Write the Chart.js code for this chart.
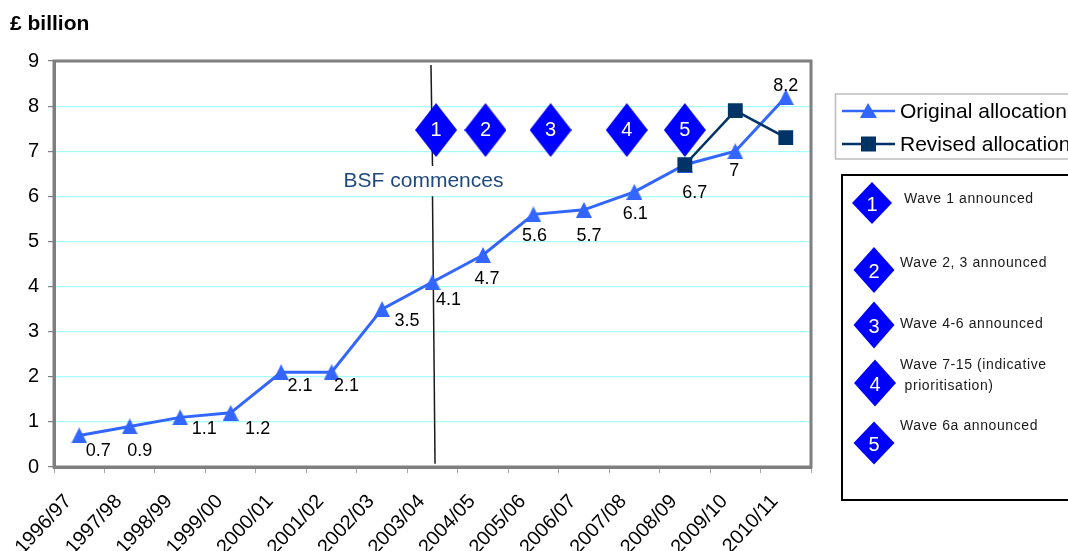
<!DOCTYPE html>
<html>
<head>
<meta charset="utf-8">
<title>BSF capital allocation</title>
<script src="https://cdn.jsdelivr.net/npm/chart.js@4"></script>
<style>
html, body { margin: 0; padding: 0; background: #fff; overflow: hidden; }
canvas { display: block; }
</style>
</head>
<body>
<canvas id="chart" width="1068" height="551"></canvas>
<script>
// Schools capital allocation, original against revised, with BSF wave announcements
const years = ['1996/97','1997/98','1998/99','1999/00','2000/01','2001/02','2002/03','2003/04','2004/05','2005/06','2006/07','2007/08','2008/09','2009/10','2010/11'];
const original = [0.7,0.9,1.1,1.2,2.1,2.1,3.5,4.1,4.7,5.6,5.7,6.1,6.7,7,8.2];
const revised = [null,null,null,null,null,null,null,null,null,null,null,null,6.7,7.9,7.3];
const waveNumbers = ['1','2','3','4','5'];
const wavePosition = [7.07,8.05,9.34,10.85,12.0];
const waveLevel = [7.47,7.47,7.47,7.47,7.47];
const commenceUpperX = [6.97,7.0];
const commenceUpperY = [8.91,6.67];
const commenceLowerX = [7.0,7.05];
const commenceLowerY = [6.0,0.07];
const waveNotes = [['Wave 1 announced'],['Wave 2, 3 announced'],['Wave 4-6 announced'],['Wave 7-15 (indicative',' prioritisation)'],['Wave 6a announced']];

const FONT = '"Liberation Sans", Arial, sans-serif';
const BLUE = '#3366ff', NAVY = '#003366', DIAMOND = '#0000ff';

// Value label placement relative to each original-allocation point
const labelShift = [[19,16],[10,25],[24,12],[27,16],[19,14],[15,14],[25,12],[16,18],[4,24],[1,22],[5,26],[1,22],[10,28],[-1,20],[0,-11]];

// Key layout: diamond centre, size, and the text rows beside it
const keyRows = [
  {cx:872, cy:203, w:40, h:42, text:[[904,199]]},
  {cx:874, cy:270, w:41, h:46, text:[[900,263]]},
  {cx:874, cy:325, w:41, h:47, text:[[900,324]]},
  {cx:875, cy:383, w:42, h:47, text:[[900,365],[900,386]]},
  {cx:874, cy:443, w:41, h:43, text:[[900,426]]}
];

function diamondPath(ctx, cx, cy, w, h) {
  ctx.beginPath();
  ctx.moveTo(cx, cy - h / 2);
  ctx.lineTo(cx + w / 2, cy);
  ctx.lineTo(cx, cy + h / 2);
  ctx.lineTo(cx - w / 2, cy);
  ctx.closePath();
}

function diamondSprite(w, h) {
  const c = document.createElement('canvas');
  c.width = w; c.height = h;
  const g = c.getContext('2d');
  g.fillStyle = DIAMOND;
  diamondPath(g, w / 2, h / 2, w, h);
  g.fill();
  return c;
}

// Triangle marker centred on its point, as tall as it is wide
function triangleSprite(size, color) {
  const c = document.createElement('canvas');
  c.width = size; c.height = size;
  const g = c.getContext('2d');
  g.fillStyle = color;
  g.beginPath();
  g.moveTo(size / 2, 0);
  g.lineTo(size, size);
  g.lineTo(0, size);
  g.closePath();
  g.fill();
  return c;
}

const annotations = {
  id: 'annotations',
  beforeDatasetsDraw(chart) {
    // Heavy grey frame round the plot
    const {ctx, chartArea: a} = chart;
    ctx.save();
    ctx.strokeStyle = '#7f7f7f';
    ctx.lineWidth = 3;
    ctx.strokeRect(a.left, a.top, a.right - a.left, a.bottom - a.top);
    ctx.restore();
  },
  afterDatasetsDraw(chart) {
    const {ctx} = chart;
    ctx.save();
    ctx.textBaseline = 'middle';
    ctx.textAlign = 'center';

    // Value labels
    ctx.fillStyle = '#000';
    ctx.font = '18px ' + FONT;
    chart.getDatasetMeta(0).data.forEach((pt, i) => {
      ctx.fillText(String(original[i]), pt.x + labelShift[i][0], pt.y + labelShift[i][1]);
    });

    // Numbers inside the wave diamonds
    ctx.fillStyle = '#fff';
    ctx.font = '20px ' + FONT;
    chart.getDatasetMeta(2).data.forEach((pt, i) => {
      ctx.fillText(waveNumbers[i], pt.x, pt.y);
    });

    // Start-of-programme caption
    ctx.fillStyle = '#1f497d';
    ctx.font = '21px ' + FONT;
    ctx.fillText('BSF commences', 423.5, 181);

    // Axis unit
    ctx.textAlign = 'left';
    ctx.fillStyle = '#000';
    ctx.font = 'bold 21px ' + FONT;
    ctx.fillText('£ billion', 10, 24);

    // Series legend
    ctx.strokeStyle = '#bdbdbd';
    ctx.lineWidth = 1.5;
    ctx.strokeRect(835.5, 94, 260, 65);
    const rows = [
      {y:111, color:BLUE, label:chart.data.datasets[0].label, mark:'tri'},
      {y:144, color:NAVY, label:chart.data.datasets[1].label, mark:'sq'}
    ];
    rows.forEach(r => {
      ctx.strokeStyle = r.color;
      ctx.fillStyle = r.color;
      ctx.lineWidth = 2.5;
      ctx.beginPath();
      ctx.moveTo(842, r.y);
      ctx.lineTo(895, r.y);
      ctx.stroke();
      if (r.mark === 'tri') {
        ctx.beginPath();
        ctx.moveTo(868, r.y - 8);
        ctx.lineTo(877, r.y + 7);
        ctx.lineTo(860, r.y + 7);
        ctx.closePath();
        ctx.fill();
      } else {
        ctx.fillRect(861, r.y - 7.5, 15, 15);
      }
      ctx.fillStyle = '#000';
      ctx.font = '21px ' + FONT;
      ctx.fillText(r.label, 900, r.y + 1);
    });

    // Wave key
    ctx.strokeStyle = '#000';
    ctx.lineWidth = 2;
    ctx.strokeRect(842, 175, 260, 325);
    keyRows.forEach((row, i) => {
      ctx.fillStyle = DIAMOND;
      diamondPath(ctx, row.cx, row.cy, row.w, row.h);
      ctx.fill();
      ctx.fillStyle = '#fff';
      ctx.textAlign = 'center';
      ctx.font = '20px ' + FONT;
      ctx.fillText(waveNumbers[i], row.cx, row.cy + 2);
      ctx.textAlign = 'left';
      ctx.fillStyle = '#1a1a1a';
      ctx.font = '14px ' + FONT;
      ctx.letterSpacing = '0.6px';
      row.text.forEach((pos, k) => ctx.fillText(waveNotes[i][k], pos[0], pos[1]));
      ctx.letterSpacing = '0px';
    });
    ctx.restore();
  }
};

const toXY = (xs, ys) => xs.map((x, i) => ({x, y: ys[i]}));

new Chart(document.getElementById('chart'), {
  type: 'line',
  data: {
    labels: years,
    datasets: [
      {
        label: 'Original allocation', data: original, order: 2,
        borderColor: BLUE, backgroundColor: BLUE, borderWidth: 3,
        pointStyle: triangleSprite(16, BLUE), pointRadius: 8, tension: 0
      },
      {
        label: 'Revised allocation', data: revised, order: 1,
        borderColor: NAVY, backgroundColor: NAVY, borderWidth: 2.5,
        pointStyle: 'rect', pointRadius: 10.5, pointBorderWidth: 0, tension: 0
      },
      {
        label: 'Wave announcements', data: toXY(wavePosition, waveLevel), xAxisID: 'xPos', order: 3,
        showLine: false, pointStyle: diamondSprite(42, 54), pointRadius: 21
      },
      {
        label: 'BSF start, upper', data: toXY(commenceUpperX, commenceUpperY), xAxisID: 'xPos', order: 4,
        borderColor: '#1a1a1a', borderWidth: 1.5, pointRadius: 0
      },
      {
        label: 'BSF start, lower', data: toXY(commenceLowerX, commenceLowerY), xAxisID: 'xPos', order: 4,
        borderColor: '#1a1a1a', borderWidth: 1.5, pointRadius: 0
      }
    ]
  },
  options: {
    responsive: false,
    animation: false,
    events: [],
    layout: { padding: { top: 61, right: 257, left: 0, bottom: 0 } },
    plugins: { legend: { display: false }, tooltip: { enabled: false } },
    scales: {
      x: {
        offset: true,
        afterFit(s) { s.height = 84; },
        grid: { offset: true, drawOnChartArea: false, drawTicks: true, tickLength: 6, color: '#a0a8b0', tickWidth: 1 },
        border: { color: '#7f7f7f', width: 3 },
        ticks: { autoSkip: false, minRotation: 47, maxRotation: 47, color: '#000', padding: 17, labelOffset: -11, font: { family: FONT, size: 20 } }
      },
      xPos: { type: 'linear', display: false, min: -0.5, max: 14.5 },
      y: {
        min: 0, max: 9,
        afterFit(s) { s.width = 54; },
        grid: { color: '#a6ffff', lineWidth: 1.2, tickColor: '#7f7f7f', tickLength: 6 },
        border: { color: '#7f7f7f', width: 3 },
        ticks: { stepSize: 1, color: '#000', padding: 9, font: { family: FONT, size: 20 } }
      }
    }
  },
  plugins: [annotations]
});
</script>
</body>
</html>
